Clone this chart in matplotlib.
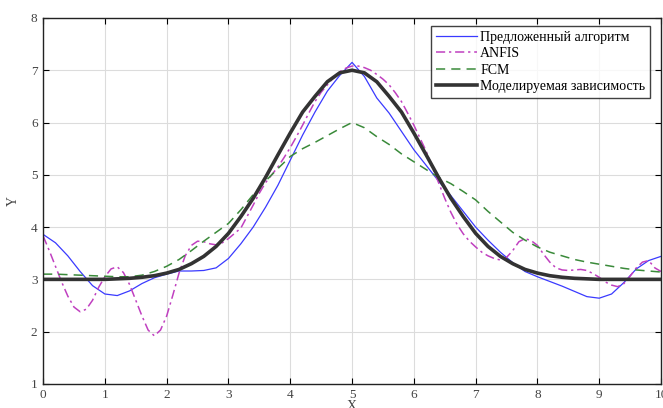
import matplotlib
matplotlib.use("Agg")
import matplotlib.pyplot as plt

# values
x = [i / 5 for i in range(51)]          # 0, 0.2, ... 10
x_anfis = [i / 10 for i in range(101)]  # 0, 0.1, ... 10

proposed = [3.86, 3.70, 3.45, 3.15, 2.88, 2.72, 2.69, 2.78, 2.92, 3.03,
            3.10, 3.16, 3.16, 3.17, 3.22, 3.40, 3.68, 4.00, 4.38, 4.80,
            5.28, 5.76, 6.20, 6.60, 6.90, 7.15, 6.88, 6.47, 6.18, 5.83,
            5.48, 5.18, 4.88, 4.60, 4.30, 4.00, 3.75, 3.52, 3.32, 3.15,
            3.05, 2.96, 2.87, 2.77, 2.67, 2.64, 2.72, 2.94, 3.20, 3.36,
            3.44]

anfis = [3.83, 3.55, 3.25, 2.95, 2.68, 2.47, 2.38, 2.43, 2.60, 2.85,
         3.05, 3.20, 3.24, 3.13, 2.90, 2.60, 2.30, 2.03, 1.92, 2.03,
         2.30, 2.70, 3.12, 3.45, 3.65, 3.73, 3.72, 3.68, 3.66, 3.70,
         3.78, 3.88, 3.98, 4.20, 4.42, 4.65, 4.85, 5.00, 5.15, 5.33,
         5.52, 5.73, 5.95, 6.18, 6.40, 6.58, 6.72, 6.86, 6.97, 7.04,
         7.08, 7.08, 7.05, 7.00, 6.92, 6.83, 6.72, 6.57, 6.40, 6.18,
         5.95, 5.70, 5.45, 5.15, 4.85, 4.55, 4.28, 4.05, 3.87, 3.73,
         3.62, 3.52, 3.45, 3.40, 3.37, 3.42, 3.55, 3.72, 3.78, 3.74,
         3.65, 3.48, 3.33, 3.22, 3.18, 3.17, 3.18, 3.19, 3.17, 3.11,
         3.04, 2.95, 2.89, 2.86, 2.92, 3.06, 3.22, 3.33, 3.36, 3.22,
         3.15]

fcm = [3.10, 3.10, 3.09, 3.08, 3.07, 3.06, 3.05, 3.05, 3.08, 3.15,
       3.25, 3.38, 3.55, 3.73, 3.90, 4.07, 4.33, 4.62, 4.88, 5.12,
       5.35, 5.50, 5.62, 5.75, 5.88, 6.00, 5.90, 5.73, 5.58, 5.40,
       5.25, 5.10, 4.95, 4.83, 4.68, 4.52, 4.30, 4.10, 3.90, 3.75,
       3.62, 3.52, 3.45, 3.38, 3.33, 3.29, 3.25, 3.21, 3.18, 3.16,
       3.14]

model = [3.00, 3.00, 3.00, 3.00, 3.00, 3.00, 3.01, 3.02, 3.04, 3.07,
         3.12, 3.19, 3.30, 3.44, 3.63, 3.88, 4.20, 4.55, 4.95, 5.38,
         5.80, 6.20, 6.50, 6.78, 6.95, 7.00, 6.95, 6.78, 6.50, 6.20,
         5.80, 5.38, 4.95, 4.55, 4.20, 3.88, 3.63, 3.44, 3.30, 3.19,
         3.12, 3.07, 3.04, 3.02, 3.01, 3.00, 3.00, 3.00, 3.00, 3.00,
         3.00]

labels = ["Предложенный алгоритм", "ANFIS", "FCM", "Моделируемая зависимость"]

plt.rcParams["font.family"] = ["Liberation Serif", "DejaVu Serif"]

fig = plt.figure(figsize=(6.63, 4.08), dpi=100)
ax = fig.add_axes([0.065, 0.059, 0.932, 0.897])

ax.plot(x, proposed, color="#3a3aff", lw=0.9, label=labels[0])
ax.plot(x_anfis, anfis, color="#c040c0", lw=1.1, ls=(0, (6, 2.5, 1.5, 2.5)), label=labels[1])
ax.plot(x, fcm, color="#3a8a3a", lw=1.1, ls=(0, (6, 4)), label=labels[2])
ax.plot(x, model, color="#333333", lw=2.6, label=labels[3])

ax.set_xlim(0, 10)
ax.set_ylim(1, 8)
ax.set_xticks(range(0, 11))
ax.set_yticks(range(1, 9))
ax.grid(True, color="#dcdcdc", lw=0.8)
ax.set_axisbelow(True)
ax.tick_params(direction="in", top=True, right=True, labelsize=9.5,
               labelcolor="#444444", length=4, width=0.8, pad=4)
for s in ax.spines.values():
    s.set_linewidth(1.0)
    s.set_color("#222222")

ax.set_xlabel("X", fontsize=10, labelpad=-1, color="#444444")
ax.set_ylabel("Y", fontsize=10, labelpad=8, color="#444444")

leg = ax.legend(loc="upper right", fontsize=10, frameon=True, fancybox=False,
                handlelength=3.0, borderaxespad=0.7, labelspacing=0.25,
                handletextpad=0.2, borderpad=0.35, bbox_to_anchor=(0.998, 1.005))
leg.get_frame().set_edgecolor("#111111")
leg.get_frame().set_linewidth(1.0)

fig.savefig("out.png", dpi=100)
